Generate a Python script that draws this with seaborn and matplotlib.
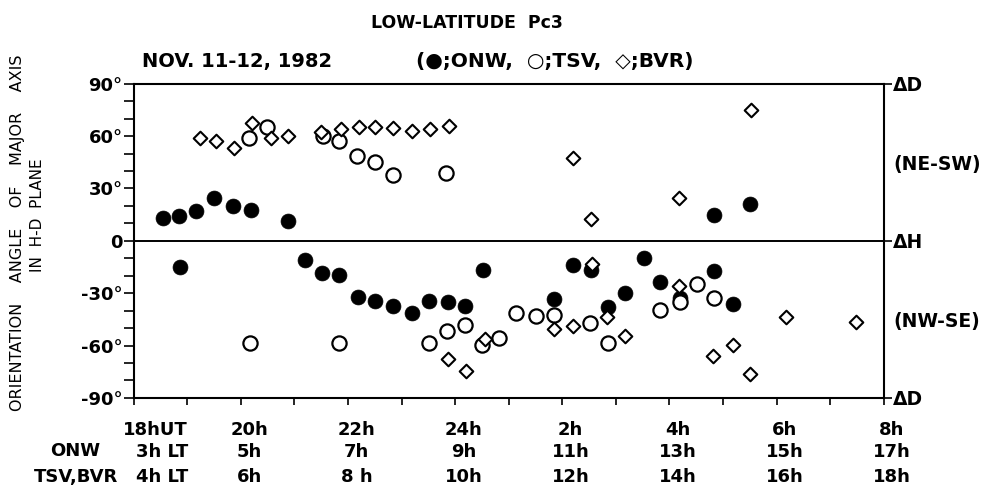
import pandas as pd
import seaborn as sns
from matplotlib import pyplot as plt
from matplotlib.ticker import MultipleLocator

# universal time in hours from 18h UT on Nov 11 (24+ = Nov 12)
onw_hour = [18.54, 18.85, 19.17, 19.50, 19.85, 20.18, 20.87, 28.84, 29.51,
            18.86, 21.19, 21.52, 21.84, 22.18, 22.51, 22.84, 23.20, 23.52,
            23.86, 24.18, 24.52, 25.84, 26.20, 26.54, 26.85, 27.18, 27.52,
            27.83, 28.19, 28.84, 29.18]
onw_angle = [13, 14.5, 17, 24.5, 20, 17.5, 11.5, 15, 21,
             -15, -11, -18.5, -19.5, -32, -34.5, -37.5, -41.5, -34.5,
             -35, -37.5, -17, -33.5, -14, -16.5, -38, -30, -10,
             -23.5, -33, -17.5, -36]

tsv_hour = [20.15, 20.49, 21.54, 21.83, 22.17, 22.50, 22.84, 23.82,
            20.16, 21.84, 23.51, 23.85, 24.18, 24.50, 24.82, 25.14, 25.50,
            25.85, 26.51, 26.85, 27.83, 28.20, 28.52, 28.83]
tsv_angle = [59, 65, 60, 57, 48.5, 45, 38, 39,
             -58.5, -58.5, -58.5, -51.5, -48, -59.5, -55.5, -41.5, -43,
             -42.5, -47, -58.5, -39.5, -35, -24.5, -33]

bvr_hour = [19.23, 19.54, 19.87, 20.21, 20.57, 20.87, 21.50, 21.87, 22.20,
            22.51, 22.84, 23.20, 23.53, 23.88, 26.20, 26.54, 28.17, 29.52,
            23.86, 24.21, 24.55, 25.84, 26.20, 26.56, 26.83, 27.18, 28.17,
            28.82, 29.19, 29.51, 30.18, 31.49]
bvr_angle = [59, 57, 53, 67.5, 59, 60, 62.5, 64, 65,
             65.5, 64.5, 63, 64, 66, 47.5, 12.5, 24.5, 75,
             -67.5, -74.5, -56, -50.5, -49, -13, -43.5, -54.5, -26,
             -66, -59.5, -76.5, -43.5, -46.5]

# axis labelling
tick_hours = [18, 20, 22, 24, 26, 28, 30, 32]
ut_labels = ["18hUT", "20h", "22h", "24h", "2h", "4h", "6h", "8h"]
onw_labels = ["3h LT", "5h", "7h", "9h", "11h", "13h", "15h", "17h"]
tsv_labels = ["4h LT", "6h", "8 h", "10h", "12h", "14h", "16h", "18h"]
angle_ticks = [90, 60, 30, 0, -30, -60, -90]
angle_labels = ["90°", "60°", "30°", "0", "-30°", "-60°", "-90°"]
right_ticks = [90, 45, 0, -45, -90]
right_labels = ["ΔD", "(NE-SW)", "ΔH", "(NW-SE)", "ΔD"]

onw = pd.DataFrame({"hour": onw_hour, "angle": onw_angle})
tsv = pd.DataFrame({"hour": tsv_hour, "angle": tsv_angle})
bvr = pd.DataFrame({"hour": bvr_hour, "angle": bvr_angle})

sns.set_style("ticks")
plt.rcParams["font.family"] = ["DejaVu Sans"]
plt.rcParams["text.color"] = "black"
plt.rcParams["xtick.color"] = "black"
plt.rcParams["ytick.color"] = "black"
plt.rcParams["axes.edgecolor"] = "black"

fig = plt.figure(figsize=(9.84, 4.93), dpi=100)
ax = fig.add_axes([0.136, 0.193, 0.762, 0.637])

sns.scatterplot(data=onw, x="hour", y="angle", ax=ax, marker="o", s=115,
                color="black", edgecolor="black", linewidth=0.5, zorder=3)
sns.scatterplot(data=tsv, x="hour", y="angle", ax=ax, marker="o", s=105,
                facecolor="white", edgecolor="black", linewidth=1.6, zorder=3)
sns.scatterplot(data=bvr, x="hour", y="angle", ax=ax, marker="D", s=48,
                facecolor="white", edgecolor="black", linewidth=1.5, zorder=4)

ax.axhline(0, color="black", lw=1.4, zorder=1)
ax.set_xlim(18, 32)
ax.set_ylim(-90, 90)
ax.set_xlabel("")
ax.set_ylabel("")
for sp in ax.spines.values():
    sp.set_linewidth(1.5)

# ticks
ax.xaxis.set_major_locator(MultipleLocator(1))
ax.tick_params(axis="x", direction="out", length=5, width=1.2, labelbottom=False)
ax.set_yticks(angle_ticks)
ax.set_yticklabels(angle_labels, fontsize=13, fontweight="bold")
ax.yaxis.set_minor_locator(MultipleLocator(10))
ax.tick_params(axis="y", which="both", direction="out", length=7, width=1.2, pad=1)

# right-hand axis: field components
ax2 = ax.twinx()
ax2.set_ylim(-90, 90)
ax2.set_yticks(right_ticks)
ax2.set_yticklabels(right_labels, fontsize=13.5, fontweight="bold")
ax2.tick_params(axis="y", direction="out", length=6, width=1.2, pad=1)
for t, v in zip(ax2.yaxis.get_major_ticks(), right_ticks):
    if v not in (90, 0, -90):
        t.tick2line.set_visible(False)
for sp in ax2.spines.values():
    sp.set_visible(False)

# three rows of time labels
rows = [ut_labels, onw_labels, tsv_labels]
row_off = [-23, -39, -57]
for labels, yoff in zip(rows, row_off):
    for i, (h, lab) in enumerate(zip(tick_hours, labels)):
        if i == 0:
            ax.annotate(lab, xy=(h, 0), xycoords=("data", "axes fraction"),
                        xytext=(39, yoff), textcoords="offset points",
                        ha="right", va="center", fontsize=13, fontweight="bold")
        else:
            ax.annotate(lab, xy=(h, 0), xycoords=("data", "axes fraction"),
                        xytext=(6, yoff), textcoords="offset points",
                        ha="center", va="center", fontsize=13, fontweight="bold")
fig.text(100 / 984, 1 - 451 / 493, "ONW", ha="right", va="center",
         fontsize=13, fontweight="bold")
fig.text(118 / 984, 1 - 477 / 493, "TSV,BVR", ha="right", va="center",
         fontsize=13, fontweight="bold")

# y label in two lines
fig.text(18 / 984, 1 - 233 / 493, "ORIENTATION    ANGLE    OF    MAJOR    AXIS",
         rotation=90, ha="center", va="center", fontsize=11.5)
fig.text(38 / 984, 1 - 215 / 493, "IN  H-D  PLANE",
         rotation=90, ha="center", va="center", fontsize=11)

# titles
fig.text(467 / 984, 1 - 23 / 493, "LOW-LATITUDE  Pc3", ha="center", va="center",
         fontsize=12.5, fontweight="bold")
fig.text(237 / 984, 1 - 62 / 493, "NOV. 11-12, 1982", ha="center", va="center",
         fontsize=14, fontweight="bold")
fig.text(555 / 984, 1 - 62 / 493, "(●;ONW,  ○;TSV,  ◇;BVR)", ha="center",
         va="center", fontsize=14.5, fontweight="bold")

plt.savefig("out.png", dpi=100)
